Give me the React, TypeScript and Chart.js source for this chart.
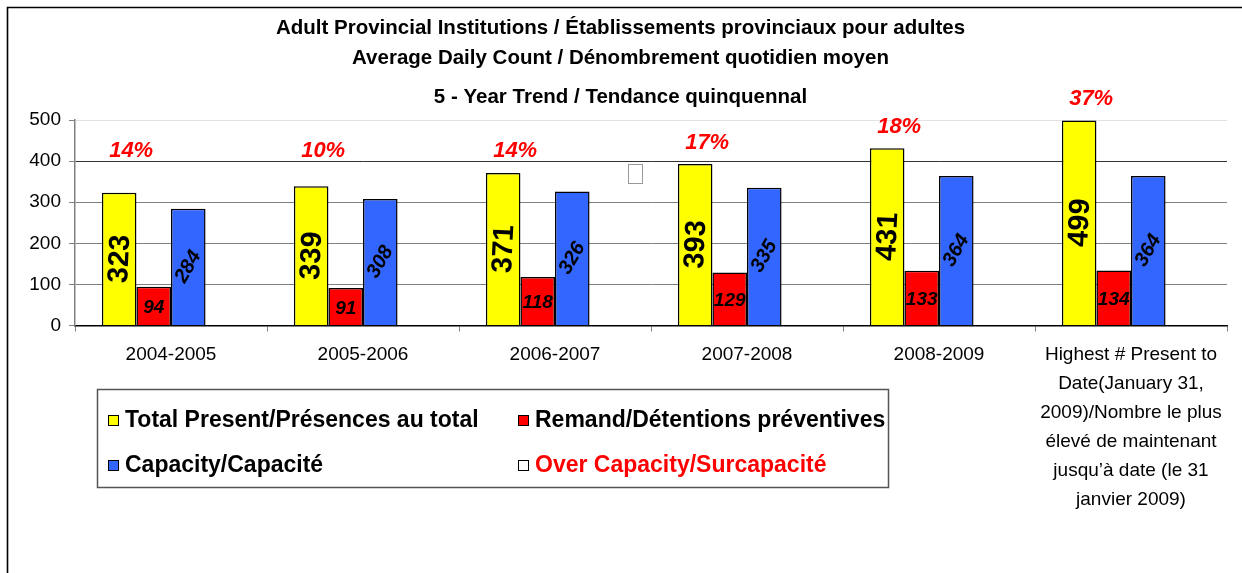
import React, { useEffect, useRef } from "react";
import { Chart, registerables } from "chart.js";

Chart.register(...registerables);

const FONT = "'Liberation Sans', Arial, sans-serif";

const categories: (string | string[])[] = [
  "2004-2005",
  "2005-2006",
  "2006-2007",
  "2007-2008",
  "2008-2009",
  [
    "Highest # Present to",
    "Date(January 31,",
    "2009)/Nombre le plus",
    "élevé de maintenant",
    "jusqu’à date (le 31",
    "janvier 2009)",
  ],
];

const totalPresent = [323, 339, 371, 393, 431, 499];
const remand = [94, 91, 118, 129, 133, 134];
const capacity = [284, 308, 326, 335, 364, 364];
const overCapacityBars = [null, null, null, null, null, null];
const overCapacityLabels = ["14%", "10%", "14%", "17%", "18%", "37%"];

const seriesNames = [
  "Total Present/Présences au total",
  "Remand/Détentions préventives",
  "Capacity/Capacité",
  "Over Capacity/Surcapacité",
];
const seriesColors = ["#FFFF00", "#FF0000", "#3366FF", "#FFFFFF"];

const yMin = 0;
const yMax = 500;
const yStep = 100;

const titleLines = [
  "Adult Provincial Institutions / Établissements provinciaux pour adultes",
  "Average Daily Count / Dénombrement quotidien moyen",
];
const subtitleText = "5 - Year Trend / Tendance quinquennal";

const annotatePlugin = {
  id: "annotate",
  beforeDraw(chart: any) {
    const ctx = chart.ctx;
    ctx.save();
    ctx.fillStyle = "#ffffff";
    ctx.fillRect(0, 0, chart.width, chart.height);
    ctx.strokeStyle = "#000";
    ctx.lineWidth = 1.6;
    ctx.beginPath();
    ctx.moveTo(7.5, chart.height);
    ctx.lineTo(7.5, 7.5);
    ctx.lineTo(chart.width, 7.5);
    ctx.stroke();
    ctx.restore();
  },
  afterDatasetsDraw(chart: any) {
    const ctx = chart.ctx;
    const yScale = chart.scales.y;
    ctx.save();
    ctx.textAlign = "center";
    ctx.textBaseline = "middle";
    ctx.fillStyle = "#000";

    // Total present labels (rotated) and over-capacity percentages
    chart.getDatasetMeta(0).data.forEach((bar: any, i: number) => {
      const p = bar.getProps(["x", "y", "base"], true);
      ctx.save();
      ctx.translate(p.x + 1, (p.y + p.base) / 2);
      ctx.rotate((-87 * Math.PI) / 180);
      ctx.font = `bold 29px ${FONT}`;
      ctx.fillStyle = "#000";
      ctx.fillText(String(totalPresent[i]), 0, 0);
      ctx.restore();

      const py = Math.min(p.y - 21, yScale.getPixelForValue(425));
      ctx.font = `italic bold 22px ${FONT}`;
      ctx.fillStyle = "#FF0000";
      ctx.fillText(overCapacityLabels[i], p.x + 12, py);
    });

    // Remand labels
    chart.getDatasetMeta(1).data.forEach((bar: any, i: number) => {
      const p = bar.getProps(["x", "y", "base"], true);
      ctx.font = `italic bold 19px ${FONT}`;
      ctx.fillStyle = "#000";
      ctx.fillText(String(remand[i]), p.x, (p.y + p.base) / 2 + 2);
    });

    // Capacity labels (rotated)
    chart.getDatasetMeta(2).data.forEach((bar: any, i: number) => {
      const p = bar.getProps(["x", "y", "base"], true);
      ctx.save();
      ctx.translate(p.x, (p.y + p.base) / 2);
      ctx.rotate((-60 * Math.PI) / 180);
      ctx.font = `italic bold 20px ${FONT}`;
      ctx.fillStyle = "#000";
      ctx.fillText(String(capacity[i]), 0, 0);
      ctx.restore();
    });

    // stray empty glyph box seen in the original
    ctx.strokeStyle = "#999";
    ctx.lineWidth = 1;
    ctx.strokeRect(628.5, 164.5, 14, 19);
    ctx.restore();
  },
  afterDraw(chart: any) {
    const ctx = chart.ctx;
    const left = 97.5;
    const top = 389.5;
    const w = 791;
    const h = 98;
    ctx.save();
    ctx.strokeStyle = "#555";
    ctx.lineWidth = 1.5;
    ctx.strokeRect(left, top, w, h);

    const cols = [108, 518];
    const rows = [420, 465];
    ctx.font = `bold 23px ${FONT}`;
    ctx.textAlign = "left";
    ctx.textBaseline = "middle";
    seriesNames.forEach((name, i) => {
      const cx = cols[i % 2];
      const cy = rows[Math.floor(i / 2)];
      ctx.fillStyle = seriesColors[i];
      ctx.fillRect(cx, cy - 5, 10, 10);
      ctx.strokeStyle = "#000";
      ctx.lineWidth = 1;
      ctx.strokeRect(cx + 0.5, cy - 4.5, 10, 10);
      ctx.fillStyle = i === 3 ? "#FF0000" : "#000";
      ctx.fillText(name, cx + 17, cy + 1);
    });
    ctx.restore();
  },
};

export default function App() {
  const ref = useRef<HTMLCanvasElement>(null);

  useEffect(() => {
    if (!ref.current) return;
    const datasets = [totalPresent, remand, capacity, overCapacityBars].map(
      (data, i) => ({
        label: seriesNames[i],
        data,
        backgroundColor: seriesColors[i],
        borderColor: "#000",
        borderWidth: 1.5,
        categoryPercentage: 0.72,
        barPercentage: 1,
      })
    );

    const chart = new Chart(ref.current, {
      type: "bar",
      data: { labels: categories, datasets },
      plugins: [annotatePlugin],
      options: {
        responsive: false,
        animation: false,
        events: [],
        layout: { padding: { left: 14, right: 15, top: 0, bottom: 50.5 } },
        plugins: {
          legend: { display: false },
          tooltip: { enabled: false },
          title: {
            display: true,
            text: titleLines,
            color: "#000",
            font: { family: FONT, size: 20.5, weight: "bold", lineHeight: 30 / 20.5 },
            padding: { top: 13, bottom: 0 },
          },
          subtitle: {
            display: true,
            text: subtitleText,
            color: "#000",
            font: { family: FONT, size: 20.5, weight: "bold", lineHeight: 1.2 },
            padding: { top: 11.7, bottom: 10.7 },
          },
        },
        scales: {
          x: {
            grid: {
              drawOnChartArea: false,
              drawTicks: true,
              tickLength: 6,
              tickColor: "#808080",
              offset: true,
            },
            border: { color: "#000", width: 1.5 },
            ticks: {
              color: "#000",
              font: { family: FONT, size: 19, lineHeight: 29 / 19 },
              padding: 8.5,
              maxRotation: 0,
              autoSkip: false,
            },
          },
          y: {
            min: yMin,
            max: yMax,
            afterFit: (scale: any) => {
              scale.width = 61;
            },
            ticks: {
              stepSize: yStep,
              color: "#000",
              font: { family: FONT, size: 19 },
              padding: 8,
            },
            grid: {
              color: (c: any) => {
                const v = c.tick ? c.tick.value : null;
                if (v === 500) return "#e2e2e2";
                if (v === 400) return "#333";
                if (v === 0) return "#000";
                return "#808080";
              },
              lineWidth: 1,
              tickLength: 6,
              tickColor: "#808080",
            },
            border: { color: "#808080", width: 1.5 },
          },
        },
      } as any,
    });
    return () => chart.destroy();
  }, []);

  return (
    <div
      style={{
        position: "fixed",
        left: 0,
        top: 0,
        width: 1242,
        height: 573,
        overflow: "hidden",
        background: "#fff",
      }}
    >
      <canvas ref={ref} width={1242} height={573} style={{ display: "block" }} />
    </div>
  );
}
